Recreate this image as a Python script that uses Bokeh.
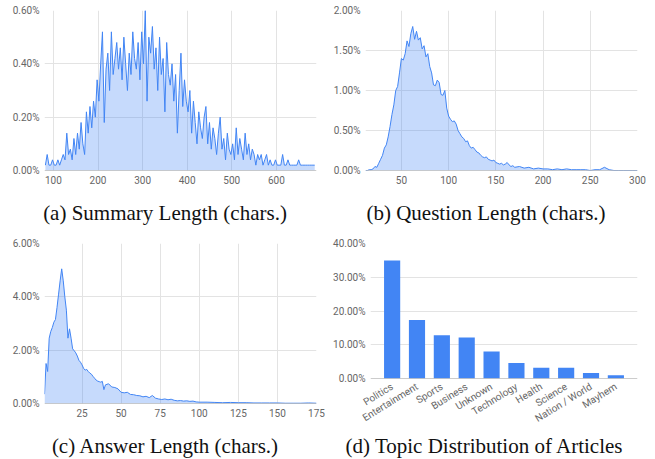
from bokeh.plotting import figure
from bokeh.models import FixedTicker, Span, FactorRange, Range1d, PrintfTickFormatter, Div
from bokeh.layouts import row, column
from bokeh.embed import file_html
from bokeh.resources import INLINE

BLUE = "#4285f4"

# (a) Summary length distribution (% of summaries), bins every 4 chars from 82
summary_x = list(range(82, 690, 4))
summary_pct = [
    0.02, 0.06, 0.02, 0.02, 0.04, 0.02, 0.02, 0.04, 0.02, 0.04,
    0.06, 0.04, 0.14, 0.06, 0.08, 0.04, 0.12, 0.06, 0.14, 0.08,
    0.18, 0.10, 0.06, 0.22, 0.14, 0.24, 0.16, 0.26, 0.20, 0.34,
    0.26, 0.40, 0.52, 0.18, 0.38, 0.44, 0.30, 0.52, 0.36, 0.42,
    0.48, 0.38, 0.46, 0.34, 0.50, 0.40, 0.30, 0.44, 0.36, 0.52,
    0.42, 0.38, 0.48, 0.34, 0.52, 0.40, 0.60, 0.26, 0.50, 0.44,
    0.54, 0.38, 0.46, 0.30, 0.50, 0.36, 0.42, 0.22, 0.48, 0.36,
    0.32, 0.40, 0.26, 0.36, 0.14, 0.30, 0.44, 0.24, 0.34, 0.26,
    0.22, 0.30, 0.14, 0.26, 0.18, 0.10, 0.22, 0.16, 0.12, 0.20,
    0.24, 0.10, 0.18, 0.08, 0.16, 0.12, 0.06, 0.14, 0.20, 0.08,
    0.12, 0.04, 0.14, 0.08, 0.06, 0.10, 0.04, 0.16, 0.06, 0.12,
    0.08, 0.04, 0.14, 0.06, 0.10, 0.04, 0.08, 0.06, 0.02, 0.06,
    0.04, 0.06, 0.02, 0.04, 0.06, 0.02, 0.04, 0.02, 0.02, 0.04,
    0.02, 0.02, 0.02, 0.06, 0.02, 0.02, 0.04, 0.02, 0.02, 0.02,
    0.02, 0.02, 0.04, 0.02, 0.02, 0.02, 0.02, 0.02, 0.02, 0.02,
    0.02, 0.02,
]

# (b) Question length distribution
question_x = list(range(12, 172, 2)) + list(range(175, 305, 5))
question_pct = [
    0.00, 0.00, 0.01, 0.01, 0.02, 0.05, 0.04, 0.09, 0.14, 0.19,
    0.28, 0.32, 0.42, 0.55, 0.70, 0.82, 1.00, 1.05, 1.22, 1.40,
    1.38, 1.46, 1.62, 1.55, 1.71, 1.80, 1.64, 1.74, 1.63, 1.66,
    1.52, 1.56, 1.42, 1.46, 1.30, 1.22, 1.07, 1.06, 1.13, 1.10,
    0.95, 0.94, 1.00, 0.78, 0.68, 0.64, 0.61, 0.62, 0.58, 0.50,
    0.46, 0.42, 0.40, 0.36, 0.37, 0.31, 0.28, 0.29, 0.26, 0.23,
    0.22, 0.19, 0.17, 0.16, 0.17, 0.14, 0.13, 0.12, 0.13, 0.10,
    0.09, 0.08, 0.09, 0.07, 0.08, 0.10, 0.07, 0.05, 0.06, 0.04,
    0.05, 0.03, 0.04, 0.02, 0.03, 0.02, 0.02, 0.01, 0.02, 0.01,
    0.02, 0.01, 0.01, 0.01, 0.01, 0.00, 0.01, 0.01, 0.04, 0.01,
    0.00, 0.00, 0.00, 0.00, 0.00, 0.00,
]

# (c) Answer length distribution
answer_x = list(range(1, 41)) + list(range(42, 102, 2)) + list(range(105, 180, 5))
answer_pct = [
    0.35, 1.50, 1.20, 2.45, 2.70, 2.85, 3.05, 3.15, 3.60, 4.10,
    4.60, 5.05, 4.60, 4.00, 3.50, 2.45, 2.80, 2.45, 2.05, 1.98,
    1.90, 1.78, 1.62, 1.55, 1.45, 1.32, 1.25, 1.28, 1.20, 1.14,
    1.10, 1.02, 0.95, 0.88, 0.84, 0.82, 0.80, 0.83, 0.52, 0.70,
    0.74, 0.62, 0.60, 0.55, 0.42, 0.40, 0.42, 0.34, 0.33, 0.30,
    0.29, 0.25, 0.27, 0.22, 0.30, 0.20, 0.17, 0.15, 0.17, 0.14,
    0.16, 0.12, 0.10, 0.11, 0.09, 0.10, 0.08, 0.09, 0.06, 0.05,
    0.05, 0.04, 0.03, 0.04, 0.03, 0.03, 0.02, 0.02, 0.02, 0.02,
    0.01, 0.01, 0.01, 0.02, 0.01,
]

# (d) Topic distribution
topics = ["Politics", "Entertainment", "Sports", "Business", "Unknown",
          "Technology", "Health", "Science", "Nation / World", "Mayhem"]
topic_pct = [35.0, 17.3, 12.85, 12.15, 8.0, 4.6, 3.2, 3.2, 1.6, 1.0]

summary_xticks = [100, 200, 300, 400, 500, 600]
summary_yticks = [0, 0.2, 0.4, 0.6]
question_xticks = [50, 100, 150, 200, 250, 300]
question_yticks = [0, 0.5, 1.0, 1.5, 2.0]
answer_xticks = [25, 50, 75, 100, 125, 150, 175]
answer_yticks = [0, 2, 4, 6]
topic_yticks = [0, 10, 20, 30, 40]

captions = ["(a) Summary Length (chars.)", "(b) Question Length (chars.)",
            "(c) Answer Length (chars.)", "(d) Topic Distribution of Articles"]


def style(p, xgrid=True):
    p.outline_line_color = None
    for ax in list(p.xaxis) + list(p.yaxis):
        ax.axis_line_color = None
        ax.major_tick_line_color = None
        ax.minor_tick_line_color = None
        ax.major_tick_out = 0
        ax.major_tick_in = 0
        ax.major_label_text_font = "Roboto"
        ax.major_label_text_font_size = "10px"
        ax.major_label_text_color = "#666666"
        ax.major_label_standoff = 5
    p.ygrid.grid_line_color = "#e3e3e3"
    p.xgrid.grid_line_color = "#e3e3e3" if xgrid else None
    p.add_layout(Span(location=0, dimension="width", line_color="#9a9a9a", line_width=1))


def cap_div(text, width, height, line_height):
    return Div(text=text, width=width, height=height, margin=(0, 0, 0, 0),
               styles={"font-family": "Liberation Serif", "font-size": "21px",
                       "color": "#111111", "text-align": "center",
                       "line-height": line_height, "white-space": "nowrap"})


def dist_fig(xs, ys, xr, yr, xticks, yticks, left, top, fh, bottom, right):
    p = figure(x_range=Range1d(*xr), y_range=Range1d(*yr), output_backend="svg",
               toolbar_location=None, frame_width=272, frame_height=fh,
               min_border_left=left, min_border_top=top, min_border_bottom=bottom,
               min_border_right=right)
    p.varea(x=xs, y1=0, y2=ys, fill_color=BLUE, fill_alpha=0.3)
    p.line(xs, ys, line_color=BLUE, line_width=1)
    p.xaxis.ticker = FixedTicker(ticks=xticks)
    p.yaxis.ticker = FixedTicker(ticks=yticks)
    p.yaxis.formatter = PrintfTickFormatter(format="%.2f%%")
    style(p)
    return p


pa = dist_fig(summary_x, summary_pct, (80, 690), (0, 0.6), summary_xticks, summary_yticks,
              44, 10, 160, 22, 14)
pb = dist_fig(question_x, question_pct, (12, 300), (0, 2.0), question_xticks, question_yticks,
              35, 10, 160, 22, 18)
pc = dist_fig(answer_x, answer_pct, (1, 175), (0, 6.0), answer_xticks, answer_yticks,
              44, 13, 160, 29, 14)

pd = figure(x_range=FactorRange(factors=topics, range_padding=0.37, range_padding_units="absolute"),
            y_range=Range1d(0, 40), output_backend="svg", toolbar_location=None,
            frame_width=267, frame_height=135, min_border_left=40, min_border_top=13,
            min_border_bottom=54, min_border_right=18)
pd.vbar(x=topics, top=topic_pct, width=0.65, fill_color=BLUE, line_color=None)
pd.yaxis.ticker = FixedTicker(ticks=topic_yticks)
pd.yaxis.formatter = PrintfTickFormatter(format="%.2f%%")
pd.xaxis.major_label_orientation = 0.55
style(pd, xgrid=False)
pd.xaxis.major_label_standoff = 7

layout = column(
    row(pa, pb),
    row(cap_div(captions[0], 330, 38, "42px"), cap_div(captions[1], 312, 38, "42px")),
    row(pc, pd),
    row(cap_div(captions[2], 330, 27, "28px"), cap_div(captions[3], 308, 27, "28px")),
)
open("out.html", "w").write(file_html(layout, INLINE))
